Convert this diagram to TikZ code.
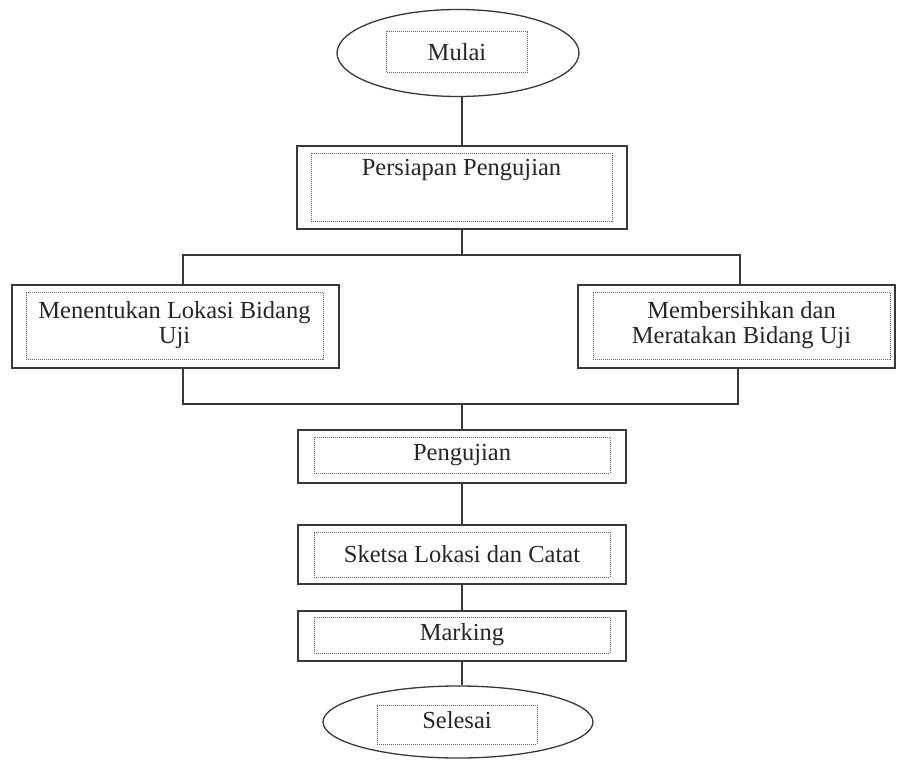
\documentclass[tikz,border=0pt]{standalone}
\usepackage{fontspec}
\setmainfont{Liberation Serif}
\usetikzlibrary{shapes.geometric,positioning}
\tikzset{
  procbox/.style={draw=black!78,line width=1.3pt,inner sep=0pt},
  dotbox/.style={draw=black!60,densely dotted,line width=1pt,inner sep=0pt,align=center,
    text=black!85,font=\fontsize{24.5}{25}\selectfont},
  termbox/.style={ellipse,draw=black!78,line width=1.3pt,inner sep=0pt},
  flowline/.style={draw=black!78,line width=1.3pt}
}
\begin{document}
\begin{tikzpicture}[x=1pt,y=-1pt]
  \useasboundingbox (0,0) rectangle (897,760);
  % start
  \node[termbox,minimum width=242pt,minimum height=87pt] (start) at (458,53) {};
  \node[dotbox,minimum width=141pt,minimum height=41pt] (startin) at (457,52) {Mulai};
  % preparation
  \node[procbox,minimum width=330pt,minimum height=83pt] (prep) at (462,187.5) {};
  \node[dotbox,minimum width=301pt,minimum height=68pt,
    label={[anchor=north,yshift=-3pt,text=black!85,font=\fontsize{24.5}{25}\selectfont]north:Persiapan Pengujian}]
    (prepin) at (461.5,187) {};
  % two parallel steps
  \node[procbox,minimum width=327pt,minimum height=83pt] (locate) at (175.5,326.5) {};
  \node[dotbox,minimum width=297pt,minimum height=67pt] (locatein) at (174.5,325.5)
    {Menentukan Lokasi Bidang\\Uji};
  \node[procbox,minimum width=317pt,minimum height=83pt] (clean) at (736.5,326.5) {};
  \node[dotbox,minimum width=297pt,minimum height=67pt] (cleanin) at (741.5,325.5)
    {Membersihkan dan\\Meratakan Bidang Uji};
  % testing
  \node[procbox,minimum width=328pt,minimum height=53pt] (test) at (462,456.5) {};
  \node[dotbox,minimum width=296pt,minimum height=36pt] (testin) at (462,455) {Pengujian};
  \node[procbox,minimum width=328pt,minimum height=59pt] (sketch) at (462,554.5) {};
  \node[dotbox,minimum width=296pt,minimum height=45pt] (sketchin) at (462,554.5) {Sketsa Lokasi dan Catat};
  \node[procbox,minimum width=328pt,minimum height=50pt] (mark) at (462,636) {};
  \node[dotbox,minimum width=296pt,minimum height=36pt] (markin) at (462,635) {Marking};
  % end
  \node[termbox,minimum width=270pt,minimum height=72pt] (finish) at (458,722) {};
  \node[dotbox,minimum width=160pt,minimum height=39pt,text depth=10pt] (finishin) at (457,724.5) {Selesai};

  \coordinate (splitL) at (183,255);
  \coordinate (splitR) at (740,255);
  \coordinate (joinL) at (183,404);
  \coordinate (joinR) at (738,404);
  \coordinate (join) at (462,404);

  \draw[flowline] (prep.north |- start.south) -- (prep.north);
  \draw[flowline] (prep.south) -- (prep.south |- splitL);
  \draw[flowline] (splitL |- locate.north) -- (splitL) -- (splitR) -- (splitR |- clean.north);
  \draw[flowline] (joinL |- locate.south) -- (joinL) -- (joinR) -- (joinR |- clean.south);
  \draw[flowline] (join) -- (test.north);
  \draw[flowline] (test.south) -- (sketch.north);
  \draw[flowline] (sketch.south) -- (mark.north);
  \draw[flowline] (mark.south) -- (mark.south |- finish.north);
\end{tikzpicture}
\end{document}
